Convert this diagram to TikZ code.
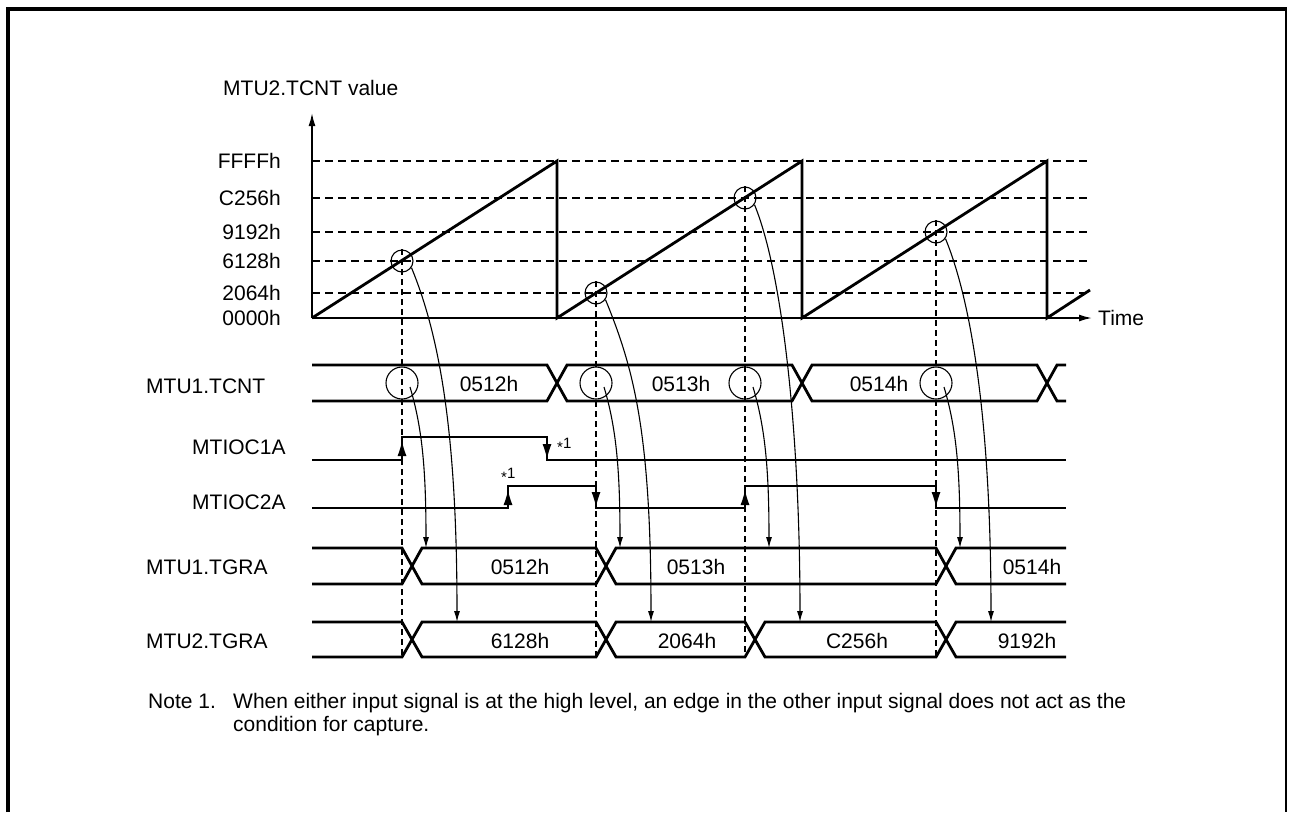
\documentclass[tikz,border=0pt]{standalone}
\usepackage{fontspec}
\setmainfont{Liberation Sans}
\usetikzlibrary{arrows.meta,calc}
\begin{document}
\begin{tikzpicture}[x=1pt,y=-1pt,
  xlbl/.style={font=\fontsize{21}{25}\selectfont, inner sep=0pt, anchor=base west},
  xlvl/.style={font=\fontsize{21}{25}\selectfont, inner sep=0pt, anchor=base east},
  xval/.style={font=\fontsize{21}{25}\selectfont, inner sep=0pt, anchor=base},
  xstar/.style={font=\fontsize{15}{15}\selectfont, inner sep=0pt, anchor=base west},
  xsig/.style={line width=2.8pt, line join=miter},
  xsaw/.style={line width=2.8pt, line join=miter},
  xaxis/.style={line width=1.6pt, -{Latex[length=13pt,width=7pt]}},
  xguide/.style={line width=1.3pt, dash pattern=on 8pt off 5pt},
  xvguide/.style={line width=1.2pt, dash pattern=on 6pt off 4pt},
  xcapc/.style={circle, draw, line width=1.1pt, inner sep=0pt, minimum size=22pt},
  xtcc/.style={circle, draw, line width=1.1pt, inner sep=0pt, minimum size=32pt},
  xcur/.style={line width=1.1pt, -{Latex[length=11pt,width=6pt]}},
  xedgearr/.style={line width=1pt, -{Latex[length=15pt,width=9pt]}}
]
\useasboundingbox (0,0) rectangle (1290,812);
% frame
\draw[line width=3.5pt] (8,812) -- (8,9) -- (1287,9);
\draw[line width=1.5pt] (1286,9) -- (1286,812);

% axes
\coordinate (o) at (312,318);
\coordinate (ytop) at (312,113);
\coordinate (xend) at (1092,318);
\draw[xaxis] (o) -- (ytop);
\draw[xaxis] (o) -- (xend);
\node[xlbl] (ylab) at (223,95) {MTU2.TCNT value};
\node[xlbl] (tlab) at (1098,325.5) {Time};

% levels
\foreach \n/\y [count=\i] in {FFFFh/161, C256h/198, 9192h/232, 6128h/261, 2064h/293, 0000h/318}
  \node[xlvl] (lv\i) at (281,\y+7) {\n};
\foreach \y in {161,198,232,261,293}
  \draw[xguide] (312,\y) -- (1090,\y);

% sawtooth
\draw[xsaw] (312,318) -- (557,161) -- (557,318) -- (802,161) -- (802,318) -- (1047,161) -- (1047,318) -- (1090,290);

% signal labels
\node[xlbl] (l1) at (146,393) {MTU1.TCNT};
\node[xlbl] (l2) at (192,454) {MTIOC1A};
\node[xlbl] (l3) at (192,509) {MTIOC2A};
\node[xlbl] (l4) at (146,574) {MTU1.TGRA};
\node[xlbl] (l5) at (146,648) {MTU2.TGRA};

% MTU1.TCNT bus
\draw[xsig] (312,365) -- (547,365) -- (567,401) -- (792,401) -- (812,365) -- (1037,365) -- (1057,401) -- (1066,401);
\draw[xsig] (312,401) -- (547,401) -- (567,365) -- (792,365) -- (812,401) -- (1037,401) -- (1057,365) -- (1066,365);
\node[xval] (v11) at (489,391.5) {0512h};
\node[xval] (v12) at (681,391.5) {0513h};
\node[xval] (v13) at (879,391.5) {0514h};

% MTIOC1A
\draw[xsig] (312,460) -- (402,460) -- (402,437) -- (547,437) -- (547,460) -- (1066,460);
\draw[xedgearr] (402,460) -- (402,441);
\draw[xedgearr] (547,437) -- (547,459);
\node[xstar] (st1) at (557,448) {\raisebox{-4pt}{*}1};

% MTIOC2A
\draw[xsig] (312,508) -- (508,508) -- (508,486) -- (596,486) -- (596,508) -- (745,508) -- (745,486) -- (936,486) -- (936,508) -- (1066,508);
\draw[xedgearr] (508,508) -- (508,490);
\draw[xedgearr] (596,486) -- (596,507);
\draw[xedgearr] (745,508) -- (745,490);
\draw[xedgearr] (936,486) -- (936,507);
\node[xstar] (st2) at (501,478) {\raisebox{-4pt}{*}1};

% MTU1.TGRA bus
\draw[xsig] (312,548) -- (402,548) -- (422,584) -- (596,584) -- (616,548) -- (936,548) -- (956,584) -- (1066,584);
\draw[xsig] (312,584) -- (402,584) -- (422,548) -- (596,548) -- (616,584) -- (936,584) -- (956,548) -- (1066,548);
\node[xval] (v21) at (520,574.5) {0512h};
\node[xval] (v22) at (696,574.5) {0513h};
\node[xval] (v23) at (1032,574.5) {0514h};

% MTU2.TGRA bus
\draw[xsig] (312,622) -- (402,622) -- (422,657) -- (596,657) -- (616,622) -- (745,622) -- (765,657) -- (936,657) -- (956,622) -- (1066,622);
\draw[xsig] (312,657) -- (402,657) -- (422,622) -- (596,622) -- (616,657) -- (745,657) -- (765,622) -- (936,622) -- (956,657) -- (1066,657);
\node[xval] (v31) at (520,648) {6128h};
\node[xval] (v32) at (687,648) {2064h};
\node[xval] (v33) at (857,648) {C256h};
\node[xval] (v34) at (1027,648) {9192h};

% capture points
\foreach \i/\x/\y in {1/402/261, 2/596/293, 3/745/198, 4/936/232} {
  \node[xcapc] (cap\i) at (\x,\y) {};
  \node[xtcc] (tc\i) at (\x,383) {};
  \coordinate (bot\i) at (\x,657);
  \coordinate (ga\i) at (\x+24,548);
  \coordinate (gb\i) at (\x+55,622);
  \coordinate (ts\i) at (\x+8,387);
  \draw[xvguide] (cap\i.north) -- (bot\i);
  \draw[xcur] (cap\i.-35) .. controls +(28,68) and +(0,-190) .. (gb\i);
  \draw[xcur] (ts\i) .. controls +(12,40) and +(0,-80) .. (ga\i);
}

% note
\node[xlbl] (n1) at (148,708) {Note 1.};
\node[xlbl] (n2) at (233,708) {When either input signal is at the high level, an edge in the other input signal does not act as the};
\node[xlbl] (n3) at (233,731) {condition for capture.};
\end{tikzpicture}
\end{document}
